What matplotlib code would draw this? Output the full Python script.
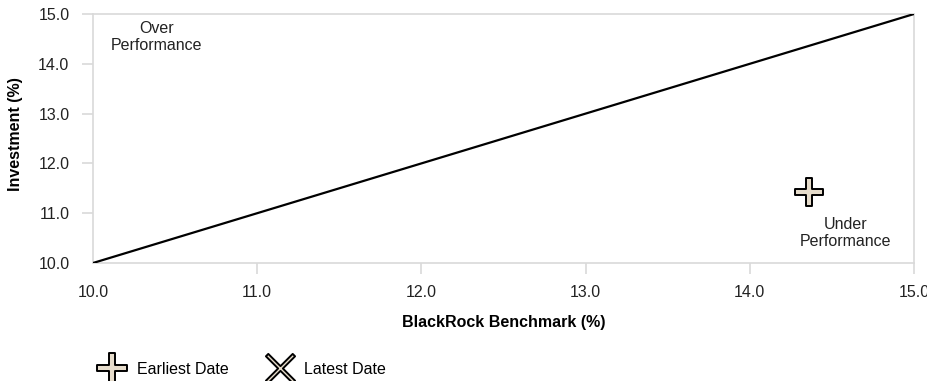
import matplotlib
matplotlib.use("Agg")
import matplotlib.pyplot as plt
import numpy as np
from matplotlib.path import Path
from matplotlib.lines import Line2D

plt.rcParams['font.family'] = ['Liberation Sans', 'DejaVu Sans']

# Data
line_x = [10.0, 15.0]
line_y = [10.0, 15.0]
earliest_x = [14.36]
earliest_y = [11.43]
x_ticks = [10.0, 11.0, 12.0, 13.0, 14.0, 15.0]
y_ticks = [10.0, 11.0, 12.0, 13.0, 14.0, 15.0]
legend_labels = ["Earliest Date", "Latest Date"]

W, H = 928, 381
FS = 11.5
fig = plt.figure(figsize=(W/100, H/100), dpi=100)
ax = fig.add_axes([93/W, (H-263)/H, 821/W, 249/H])

grey = '#d9d9d9'
fill = '#e6dccb'
txt = '#222222'

w = 0.2
plus_verts = [(-w, 1), (w, 1), (w, w), (1, w), (1, -w), (w, -w), (w, -1), (-w, -1),
              (-w, -w), (-1, -w), (-1, w), (-w, w), (-w, 1)]
plus_path = Path(plus_verts, closed=True)
ang = np.deg2rad(45)
R = np.array([[np.cos(ang), -np.sin(ang)], [np.sin(ang), np.cos(ang)]])
wx = 0.12
L = 1.35
x_verts_base = [(-wx, L), (wx, L), (wx, wx), (L, wx), (L, -wx), (wx, -wx), (wx, -L),
                (-wx, -L), (-wx, -wx), (-L, -wx), (-L, wx), (-wx, wx), (-wx, L)]
x_verts = [tuple(R @ np.array(v)) for v in x_verts_base]
x_path = Path(x_verts, closed=True)

ax.plot(line_x, line_y, color='black', lw=1.6, zorder=3)
ax.plot(earliest_x, earliest_y, linestyle='none', marker=plus_path, markersize=19.5,
        markerfacecolor=fill, markeredgecolor='black', markeredgewidth=1.4, zorder=4)

ax.set_xlim(10, 15)
ax.set_ylim(10, 15)
ax.set_xticks(x_ticks)
ax.set_yticks(y_ticks)
ax.set_xticklabels([f"{v:.1f}" for v in x_ticks], fontsize=FS)
ax.set_yticklabels([f"{v:.1f}" for v in y_ticks], fontsize=FS)
for s in ax.spines.values():
    s.set_color(grey)
    s.set_linewidth(1.2)
ax.tick_params(axis='both', color=grey, length=8, width=1.2, labelcolor=txt)
ax.tick_params(axis='x', pad=8)
ax.tick_params(axis='y', pad=9)
for t in [ax.xaxis.get_major_ticks()[0], ax.yaxis.get_major_ticks()[0]]:
    t.tick1line.set_visible(False)

ax.set_xlabel("BlackRock Benchmark (%)", fontsize=FS, fontweight='bold', labelpad=11)
fig.text(16/W, 1 - 134/H, "Investment (%)", rotation=90, fontsize=FS,
         fontweight='bold', ha='center', va='center')

fig.text(157/W, 1 - 37/H, "Over\nPerformance", ha='center', va='center', fontsize=FS,
         linespacing=1.2, color=txt)
fig.text(846/W, 1 - 233/H, "Under\nPerformance", ha='center', va='center', fontsize=FS,
         linespacing=1.2, color=txt)

h1 = Line2D([], [], linestyle='none', marker=plus_path, markersize=22,
            markerfacecolor=fill, markeredgecolor='black', markeredgewidth=1.4)
h2 = Line2D([], [], linestyle='none', marker=x_path, markersize=21,
            markerfacecolor=fill, markeredgecolor='black', markeredgewidth=1.4)
fig.legend([h1, h2], legend_labels, loc='center left', bbox_to_anchor=(92/W, 1 - 369/H),
           ncol=2, frameon=False, fontsize=FS, handlelength=2.5, handletextpad=0.3,
           columnspacing=1.95, borderaxespad=0, borderpad=0)

fig.savefig("out.png", dpi=100)
